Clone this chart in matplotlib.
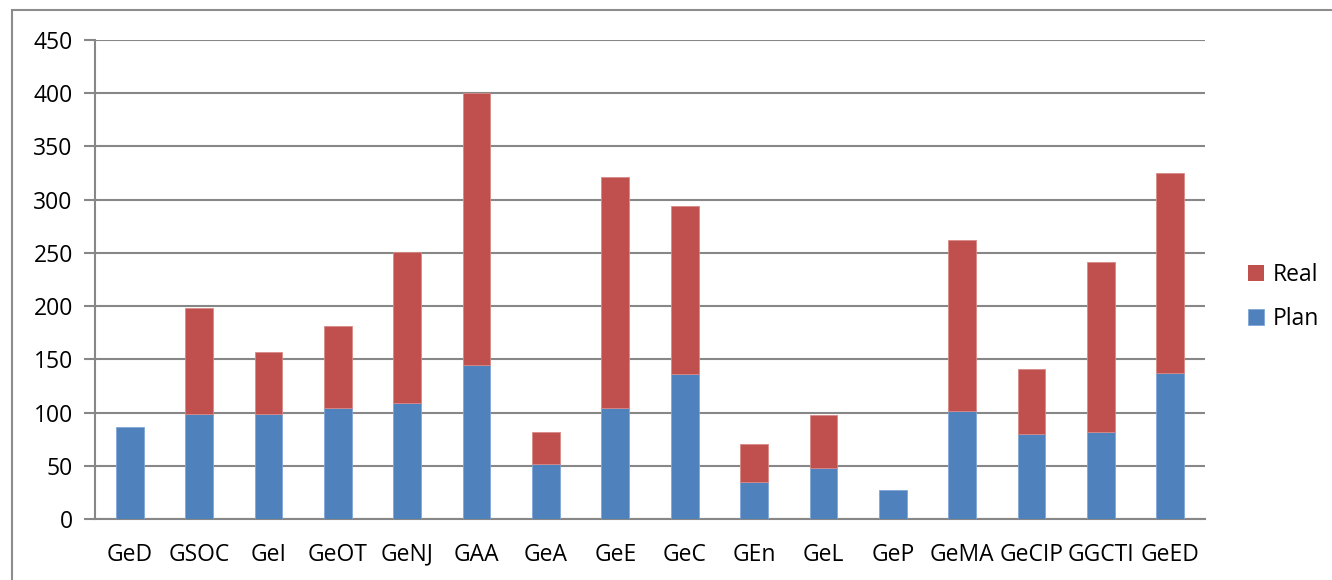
import matplotlib
matplotlib.use("Agg")
import matplotlib.pyplot as plt
from matplotlib.patches import Rectangle
import numpy as np

categories = ["GeD", "GSOC", "GeI", "GeOT", "GeNJ", "GAA", "GeA", "GeE",
              "GeC", "GEn", "GeL", "GeP", "GeMA", "GeCIP", "GGCTI", "GeED"]
plan = [86, 99, 99, 104, 109, 145, 52, 104, 136, 35, 48, 27, 101, 80, 82, 137]
real = [0, 99, 58, 77, 142, 255, 30, 217, 158, 35, 50, 0, 161, 61, 159, 188]
yticks = [0, 50, 100, 150, 200, 250, 300, 350, 400, 450]

plt.rcParams["font.family"] = ["Open Sans", "DejaVu Sans"]

W, H = 1332, 580
fig = plt.figure(figsize=(W / 100, H / 100), dpi=100)
ax = fig.add_axes([95 / W, 1 - 519 / H, (1205 - 95) / W, (519 - 40) / H])

grid_c = "#878787"
x = np.arange(len(categories))
ax.bar(x, plan, width=0.4, color="#4F81BD", edgecolor="#7FA6D6",
       linewidth=0.6, label="Plan", zorder=3)
real_edges = ["#D88A88" if v > 0 else "none" for v in real]
ax.bar(x, real, width=0.4, bottom=plan, color="#C0504D", edgecolor=real_edges,
       linewidth=0.6, label="Real", zorder=3)

ax.set_xlim(-0.5, len(categories) - 0.5)
ax.set_ylim(0, 450)
ax.set_yticks(yticks)
ax.set_xticks(x)
ax.set_xticklabels(categories)
ax.yaxis.grid(True, color=grid_c, linewidth=1.5, zorder=0)
ax.set_axisbelow(True)

for s in ["top", "right"]:
    ax.spines[s].set_visible(False)
for s in ["left", "bottom"]:
    ax.spines[s].set_color(grid_c)
    ax.spines[s].set_linewidth(1.5)

ax.tick_params(axis="y", length=8, width=1.5, color=grid_c, labelsize=16.5,
               pad=8, labelcolor="#000000")
ax.tick_params(axis="x", length=0, labelsize=16.5, pad=17, labelcolor="#000000")

handles, labels = ax.get_legend_handles_labels()
fig.legend(handles[::-1], labels[::-1], loc="center left",
           bbox_to_anchor=(1227 / W, 1 - 297 / H), frameon=False,
           fontsize=16.5, handlelength=0.7, handleheight=0.7,
           handletextpad=0.4, labelspacing=0.85)

# outer chart frame
fig.patches.append(Rectangle((12 / W, -0.1), 1.2, 1 - 10 / H + 0.1,
                             transform=fig.transFigure, fill=False,
                             edgecolor="#8C8C8C", linewidth=1.5))

fig.savefig("out.png", dpi=100)
